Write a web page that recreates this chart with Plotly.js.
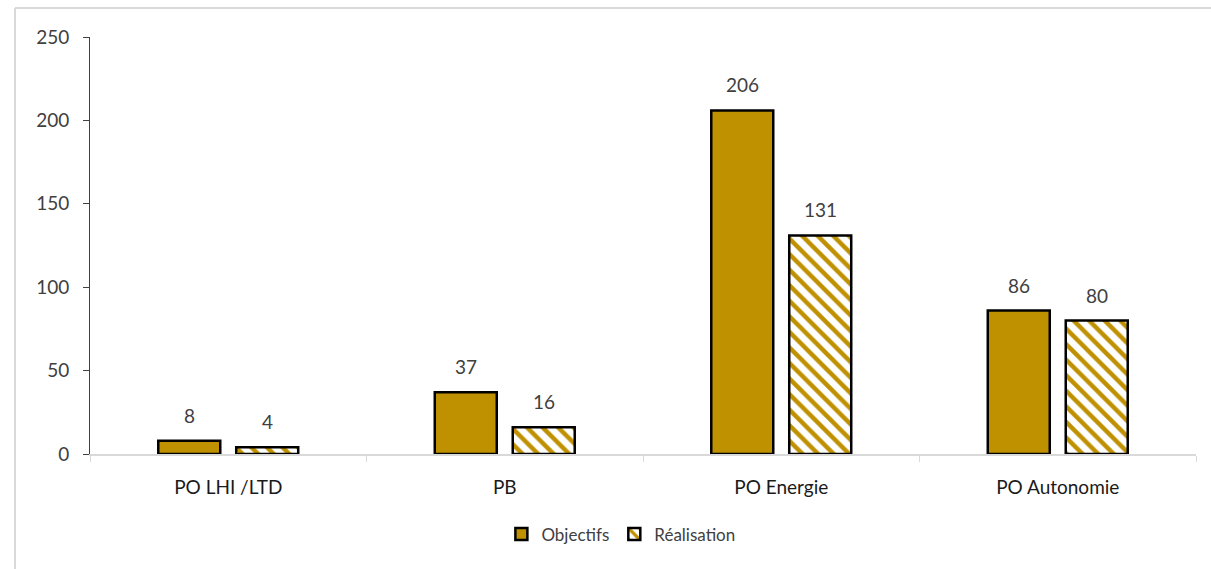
<!DOCTYPE html>
<html><head><meta charset="utf-8">
<script src="https://cdn.plot.ly/plotly-3.0.1.min.js"></script>
<style>html,body{margin:0;padding:0;background:#fff}#chart{width:1211px;height:569px}</style>
</head><body><div id="chart"></div>
<script>
const categories = ["PO LHI /LTD", "PB", "PO Energie", "PO Autonomie"];
const objectifs = [8, 37, 206, 86];
const realisation = [4, 16, 131, 80];
const seriesNames = ["Objectifs", "Réalisation"];
const yTicks = [0, 50, 100, 150, 200, 250];

const gold = "#BF9000";
const font = "Lato, 'Open Sans', sans-serif";

const traces = [
  {type: "bar", name: seriesNames[0], x: categories, y: objectifs,
   marker: {color: gold, line: {color: "#000", width: 2.5}}},
  {type: "bar", name: seriesNames[1], x: categories, y: realisation,
   marker: {color: "#fff", line: {color: "#000", width: 2.5},
            pattern: {shape: "\\", fgcolor: gold, bgcolor: "#fff", size: 11, solidity: 0.4}}}
];

const annotations = [];
[objectifs, realisation].forEach((arr, s) => {
  arr.forEach((v, i) => {
    annotations.push({x: categories[i], y: v, xref: "x", yref: "y", text: String(v),
      showarrow: false, yanchor: "bottom", yshift: 12, xshift: (s === 0 ? -39 : 39),
      font: {family: font, size: 19, color: "#404040"}});
  });
});

const layout = {
  width: 1211, height: 569,
  margin: {l: 90, r: 15, t: 37, b: 115},
  paper_bgcolor: "#fff", plot_bgcolor: "#fff",
  barmode: "group", bargap: 0.436, bargroupgap: 0.205,
  font: {family: font, size: 19, color: "#404040"},
  xaxis: {type: "category", showline: true, linecolor: "#d9d9d9", linewidth: 1.5,
          ticks: "outside", tickson: "boundaries", ticklen: 6, tickcolor: "#d9d9d9",
          ticklabelstandoff: 16,
          showgrid: false, tickfont: {family: font, size: 19, color: "#1a1a1a"}},
  yaxis: {range: [0, 250], tickvals: yTicks, showline: true, linecolor: "#404040", linewidth: 1,
          ticks: "outside", ticklen: 6, tickcolor: "#404040", showgrid: false, zeroline: false,
          ticklabelstandoff: 10,
          tickfont: {family: font, size: 19, color: "#404040"}},
  showlegend: true,
  legend: {orientation: "h", x: 0.48, xanchor: "center", y: -0.15, yanchor: "top",
           font: {family: font, size: 17, color: "#404040"}, traceorder: "normal", itemwidth: 30},
  annotations: annotations,
  shapes: [
    {type: "line", xref: "paper", yref: "paper", x0: -0.0678, x1: 1.1, y0: 1.0695, y1: 1.0695,
     line: {color: "#d9d9d9", width: 2}},
    {type: "line", xref: "paper", yref: "paper", x0: -0.0678, x1: -0.0678, y0: 1.0695, y1: -0.3,
     line: {color: "#d9d9d9", width: 2}}
  ]
};

Plotly.newPlot("chart", traces, layout, {displayModeBar: false, staticPlot: true});
</script></body></html>
